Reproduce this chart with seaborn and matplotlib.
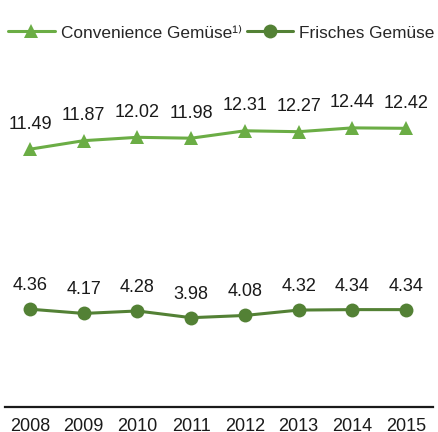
import matplotlib
matplotlib.use("Agg")
import matplotlib.pyplot as plt
import seaborn as sns
import pandas as pd

# values
years = ['2008', '2009', '2010', '2011', '2012', '2013', '2014', '2015']
convenience = [11.49, 11.87, 12.02, 11.98, 12.31, 12.27, 12.44, 12.42]
frisch = [4.36, 4.17, 4.28, 3.98, 4.08, 4.32, 4.34, 4.34]
series_names = ['Convenience Gemüse¹⁾', 'Frisches Gemüse']

sns.set_style("white")
plt.rcParams['font.family'] = ['Liberation Sans', 'DejaVu Sans']

df = pd.DataFrame({
    'Jahr': years * 2,
    'Wert': convenience + frisch,
    'Serie': [series_names[0]] * len(years) + [series_names[1]] * len(years),
})

fig = plt.figure(figsize=(4.38, 4.32), dpi=100)
ax = fig.add_axes([5 / 438, 25 / 432, 428 / 438, 359 / 432])

palette = {series_names[0]: '#6BAD45', series_names[1]: '#538135'}
sns.lineplot(data=df, x='Jahr', y='Wert', hue='Serie', style='Serie',
             markers={series_names[0]: '^', series_names[1]: 'o'},
             dashes=False, palette=palette, linewidth=2.2, markersize=10,
             markeredgewidth=0, sort=False, ax=ax)

for i, v in enumerate(convenience):
    ax.annotate(f"{v:.2f}", (i, v), xytext=(0, 18), textcoords='offset points',
                ha='center', va='center', fontsize=13, color='#1a1a1a')
for i, v in enumerate(frisch):
    ax.annotate(f"{v:.2f}", (i, v), xytext=(0, 17), textcoords='offset points',
                ha='center', va='center', fontsize=13, color='#1a1a1a')

ax.set_xlim(-0.465, 7.5)
ax.set_ylim(0, 16)
ax.set_yticks([])
ax.set_xlabel('')
ax.set_ylabel('')
ax.tick_params(axis='x', length=0, labelsize=13, pad=8, colors='#1a1a1a')
for side in ['left', 'right', 'top']:
    ax.spines[side].set_visible(False)
ax.spines['bottom'].set_color('#1a1a1a')
ax.spines['bottom'].set_linewidth(1.6)

handles, labels = ax.get_legend_handles_labels()
ax.get_legend().remove()
fig.legend(handles, labels, loc='center', bbox_to_anchor=(221.5 / 438, 1 - 33 / 432),
           ncol=2, frameon=False, fontsize=12.4, handlelength=2.7,
           handletextpad=0.35, columnspacing=0.3, borderaxespad=0,
           borderpad=0)

fig.savefig('out.png', dpi=100)
